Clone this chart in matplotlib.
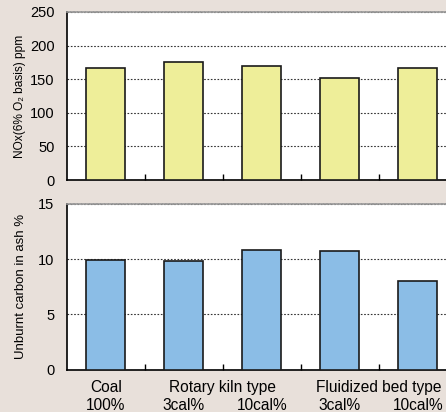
import matplotlib
matplotlib.use("Agg")
from matplotlib import pyplot as plt
from matplotlib.ticker import FixedLocator

plt.rcParams['font.family'] = ['Liberation Sans', 'DejaVu Sans']

categories = ["Coal 100%", "Rotary 3cal%", "Rotary 10cal%", "Fluidized 3cal%", "Fluidized 10cal%"]
nox_ppm = [167, 175, 170, 152, 167]
unburnt_carbon = [9.95, 9.85, 10.85, 10.7, 8.05]

bg = '#e8e0da'
fig = plt.figure(figsize=(4.46, 4.12), dpi=100, facecolor=bg)

ax1 = fig.add_axes([0.150, 0.563, 0.874, 0.408])
ax2 = fig.add_axes([0.150, 0.102, 0.874, 0.404])

x = list(range(len(categories)))

def style(ax, ymax, step):
    ax.set_xlim(-0.5, 4.5)
    ax.set_ylim(0, ymax)
    ax.set_yticks(range(0, ymax + 1, step))
    ax.tick_params(axis='y', length=0, labelsize=10.5, pad=9)
    ax.set_xticks([])
    ax.xaxis.set_minor_locator(FixedLocator([0.5, 1.5, 2.5, 3.5]))
    ax.tick_params(axis='x', which='minor', direction='in', length=4, width=1, color='black')
    ax.grid(axis='y', color='#333333', linestyle=(0, (1.5, 1.5)), linewidth=0.8)
    ax.set_axisbelow(True)
    ax.spines['right'].set_visible(False)
    ax.spines['top'].set_color('#999999')
    ax.spines['top'].set_linestyle((0, (1.5, 0.8)))
    ax.spines['top'].set_linewidth(1.2)
    ax.spines['left'].set_linewidth(1.2)
    ax.spines['bottom'].set_linewidth(1.2)

ax1.bar(x, nox_ppm, width=0.5, color='#eeee99', edgecolor='#1a1a1a', linewidth=1.2, zorder=3)
style(ax1, 250, 50)
ax1.set_ylabel('NOx(6% O₂ basis) ppm', fontsize=8.6, labelpad=3)

ax2.bar(x, unburnt_carbon, width=0.5, color='#8bbde6', edgecolor='#1a1a1a', linewidth=1.2, zorder=3)
style(ax2, 15, 5)
ax2.set_ylabel('Unburnt carbon in ash %', fontsize=9.5, labelpad=8)

tr = ax2.get_xaxis_transform()
fs = 11.2
ax2.text(0, -0.06, 'Coal', transform=tr, ha='center', va='top', fontsize=fs)
ax2.text(0, -0.17, '100%', transform=tr, ha='center', va='top', fontsize=fs)
ax2.text(1.5, -0.06, 'Rotary kiln type', transform=tr, ha='center', va='top', fontsize=fs)
ax2.text(1, -0.17, '3cal%', transform=tr, ha='center', va='top', fontsize=fs)
ax2.text(2, -0.17, '10cal%', transform=tr, ha='center', va='top', fontsize=fs)
ax2.text(3.5, -0.06, 'Fluidized bed type', transform=tr, ha='center', va='top', fontsize=fs)
ax2.text(3, -0.17, '3cal%', transform=tr, ha='center', va='top', fontsize=fs)
ax2.text(4, -0.17, '10cal%', transform=tr, ha='center', va='top', fontsize=fs)

fig.savefig('out.png', dpi=100, facecolor=bg)
